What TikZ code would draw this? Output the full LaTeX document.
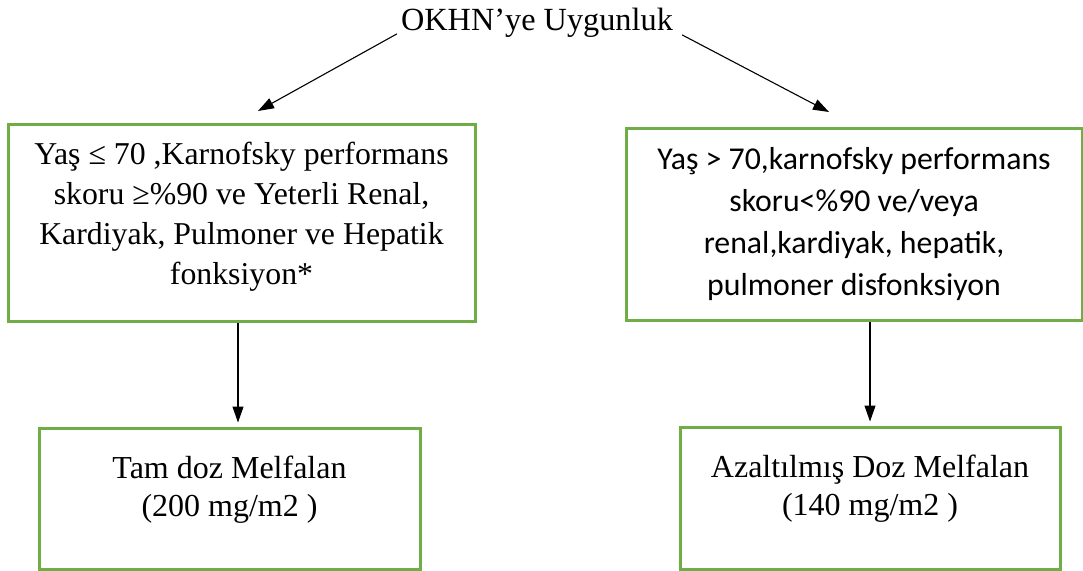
\documentclass[tikz,border=0pt]{standalone}
\usepackage{fontspec}
\setmainfont{Liberation Serif}
\newfontfamily\calfont{Carlito}
\usetikzlibrary{arrows.meta}
\definecolor{boxgreen}{HTML}{70AD47}

\begin{document}
\begin{tikzpicture}[x=1pt, y=-1pt,
  box/.style={draw=boxgreen, line width=3pt, align=center, inner sep=0pt},
  serifbox/.style={box, font=\fontsize{31.8}{40}\selectfont},
  sansbox/.style={box, font=\calfont\fontsize{31.8}{42}\selectfont},
  arrow/.style={-{Triangle[length=16pt,width=11pt]}, line width=1.1pt}
]
\useasboundingbox (0,0) rectangle (1083,570);

\node[font=\fontsize{32.3}{36}\selectfont, inner sep=0pt] (title) at (537,23) {OKHN’ye Uygunluk};

\node[serifbox, minimum width=467pt, minimum height=197pt, text depth=19pt] (crit) at (241.5,222.5)
  {Yaş ≤ 70 ,Karnofsky performans\\skoru ≥\%90 ve Yeterli Renal,\\Kardiyak, Pulmoner ve Hepatik\\fonksiyon*};
\node[sansbox, minimum width=456pt, minimum height=192pt] (risk) at (854,224)
  {Yaş > 70,karnofsky performans\\skoru<\%90 ve/veya\\renal,kardiyak, hepatik,\\pulmoner disfonksiyon};

\node[serifbox, font=\fontsize{32}{38}\selectfont, minimum width=381pt, minimum height=141pt, text depth=25pt] (fulldose) at (229.5,498.5)
  {Tam doz Melfalan\\(200 mg/m2 )};
\node[serifbox, font=\fontsize{32}{38}\selectfont, minimum width=380pt, minimum height=142pt, text depth=25pt] (reddose) at (870,498)
  {Azaltılmış Doz Melfalan\\(140 mg/m2 )};

% arrow ends above the upper boxes
\coordinate (lhead) at (258,111);
\coordinate (rhead) at (829,112);
\coordinate (lfoot) at ([xshift=-3.5pt]crit.south);

\draw[arrow] ([xshift=-4pt,yshift=4pt]title.south west) -- (lhead);
\draw[arrow] ([xshift=9pt,yshift=3pt]title.south east) -- (rhead);
\draw[arrow, shorten >=4pt] (lfoot) -- (lfoot |- fulldose.north);
\draw[arrow, shorten >=4pt] (risk.south -| reddose.north) -- (reddose.north);
\end{tikzpicture}
\end{document}
